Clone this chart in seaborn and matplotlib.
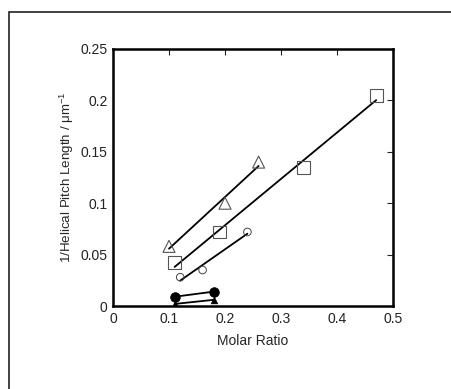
import numpy as np
import pandas as pd
import matplotlib
matplotlib.use("Agg")
import matplotlib.pyplot as plt
import seaborn as sns
from matplotlib.patches import Rectangle

sns.set_style("white")
plt.rcParams['font.family'] = ['Liberation Sans', 'DejaVu Sans']

# Data
tri_x = [0.10, 0.20, 0.26]
tri_y = [0.058, 0.100, 0.140]
sq_x = [0.11, 0.19, 0.34, 0.47]
sq_y = [0.042, 0.072, 0.135, 0.205]
circ_x = [0.12, 0.16, 0.24]
circ_y = [0.028, 0.035, 0.072]
fcirc_x = [0.11, 0.18]
fcirc_y = [0.009, 0.014]
ftri_x = [0.11, 0.18]
ftri_y = [0.002, 0.006]

x_ticks = [0, 0.1, 0.2, 0.3, 0.4, 0.5]
y_ticks = [0, 0.05, 0.1, 0.15, 0.2, 0.25]

fig = plt.figure(figsize=(4.51, 3.89), dpi=100)
W, H = 451, 389
ax = fig.add_axes([113 / W, 1 - 306 / H, (393 - 113) / W, (306 - 49) / H])

# outer frame
fig.patches.append(Rectangle((9 / W, -0.1), 1.2, 1 - 12 / H + 0.1,
                             transform=fig.transFigure, fill=False,
                             edgecolor='#222222', linewidth=1.2, zorder=0))

line_kw = dict(color='black', linewidth=1.3)

def fit(x, y, marker, ms, mec, mew):
    sns.regplot(x=x, y=y, ax=ax, ci=None, truncate=True, scatter=False,
                line_kws=line_kw)
    sns.scatterplot(x=x, y=y, ax=ax, marker=marker, s=ms, facecolor='none',
                    edgecolor=mec, linewidth=mew, zorder=3)

fit(tri_x, tri_y, '^', 75, '#555555', 0.8)
fit(sq_x, sq_y, 's', 85, '#555555', 0.8)
fit(circ_x, circ_y, 'o', 30, '#444444', 0.7)

sns.lineplot(x=fcirc_x, y=fcirc_y, ax=ax, color='black', linewidth=1.3)
sns.scatterplot(x=fcirc_x, y=fcirc_y, ax=ax, marker='o', s=48,
                color='black', edgecolor='black', zorder=3)
sns.lineplot(x=ftri_x, y=ftri_y, ax=ax, color='black', linewidth=1.3)
sns.scatterplot(x=ftri_x, y=ftri_y, ax=ax, marker='^', s=24,
                color='black', edgecolor='black', zorder=3)

ax.set_xlim(0, 0.5)
ax.set_ylim(0, 0.25)
ax.set_xticks(x_ticks)
ax.set_yticks(y_ticks)
ax.set_xticklabels(['%g' % t for t in x_ticks])
ax.set_yticklabels(['%g' % t for t in y_ticks])
ax.tick_params(direction='in', top=True, right=True, length=4, width=0.8,
               labelsize=10, colors='#222222', pad=4)
for s in ax.spines.values():
    s.set_visible(True)
    s.set_color('black')
    s.set_linewidth(1.8)

ax.set_xlabel('Molar Ratio', fontsize=10, labelpad=6)
ax.set_ylabel('1/Helical Pitch Length / \u03bcm$^{\\mathregular{-1}}$',
              fontsize=9.6, labelpad=3)

fig.savefig('out.png', dpi=100)
